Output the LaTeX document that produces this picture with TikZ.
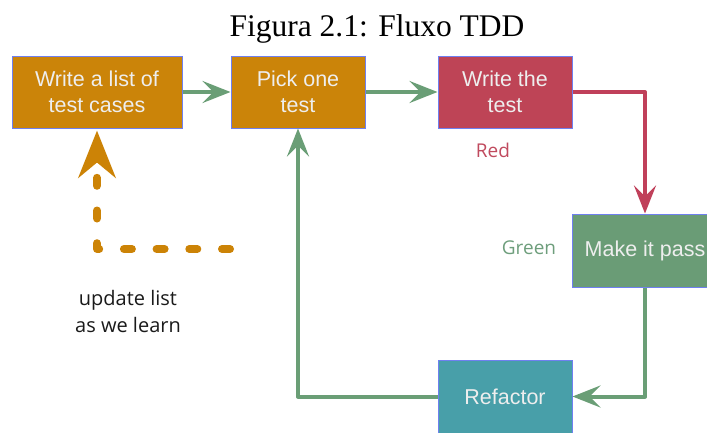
\documentclass[tikz,border=0pt]{standalone}
\usepackage{fontspec}
\setmainfont{Liberation Serif}
\newfontfamily\boxfont{Liberation Sans}
\newfontfamily\notefont{Open Sans}
\usetikzlibrary{arrows.meta}

\definecolor{boxline}{HTML}{6F80F0}
\definecolor{boxtext}{HTML}{EEEEEE}
\definecolor{fillorange}{HTML}{CB8409}
\definecolor{fillred}{HTML}{BE4456}
\definecolor{fillgreen}{HTML}{6A9C76}
\definecolor{fillteal}{HTML}{489FA9}
\definecolor{flowgreen}{HTML}{6A9E76}
\definecolor{flowred}{HTML}{C0405A}
\definecolor{flowdots}{HTML}{CC8306}
\definecolor{redlabel}{HTML}{C04A5E}
\definecolor{greenlabel}{HTML}{6E9E7C}
\definecolor{notetext}{HTML}{1A1A1A}

\begin{document}
\begin{tikzpicture}[x=1pt,y=-1pt,
  stepbox/.style={draw=boxline, line width=1pt, inner sep=0pt,
    minimum height=72pt, text=boxtext, align=center,
    font=\boxfont\fontsize{21.5}{26}\selectfont},
  flowline/.style={line width=4pt, line join=round,
    -{Stealth[length=28pt,width=22pt,inset=11pt]}},
  dotline/.style={draw=flowdots, line width=8pt, line cap=round, line join=round,
    dash pattern=on 8pt off 24.7pt,
    -{Stealth[length=47pt,width=37pt,inset=15pt]}},
  lbl/.style={font=\notefont\fontsize{19}{27}\selectfont, inner sep=0pt}
]
\useasboundingbox (0,0) rectangle (707,432);
\clip (0,0) rectangle (707,432);

% caption
\node[font=\fontsize{31.5}{36}\selectfont, anchor=base, inner sep=0pt]
  (title) at (377,36) {Figura 2.1: Fluxo TDD};

% steps of the cycle
\node[stepbox, fill=fillorange, minimum width=170pt] (list) at (97,92)
  {Write a list of\\test cases};
\node[stepbox, fill=fillorange, minimum width=134pt] (pick) at (298,92)
  {Pick one\\test};
\node[stepbox, fill=fillred, minimum width=134pt] (write) at (505,92)
  {Write the\\test};
\node[stepbox, fill=fillgreen, minimum width=146pt, minimum height=73pt] (pass) at (645,250.5)
  {Make it pass};
\node[stepbox, fill=fillteal, minimum width=134pt, minimum height=73pt] (refactor) at (505,396.5)
  {Refactor};

% labels
\node[lbl, text=redlabel, anchor=base] (redlbl) at (493,157) {Red};
\node[lbl, text=greenlabel, anchor=base] (greenlbl) at (529,254.5) {Green};
\node[lbl, text=notetext, align=center, font=\notefont\fontsize{20}{27}\selectfont]
  (note) at (128,311) {update list\\as we learn};

% connectors
\draw[flowline, draw=flowgreen] (list.east) -- (pick.west);
\draw[flowline, draw=flowgreen] (pick.east) -- (write.west);
\draw[flowline, draw=flowred] (write.east) -| (pass.north);
\draw[flowline, draw=flowgreen] (pass.south) |- (refactor.east);
\draw[flowline, draw=flowgreen] (refactor.west) -| (pick.south);

% feedback into the list
\coordinate (learn) at (230,249);
\draw[dotline, shorten >=2pt] (learn) -| (list.south);
\end{tikzpicture}
\end{document}
